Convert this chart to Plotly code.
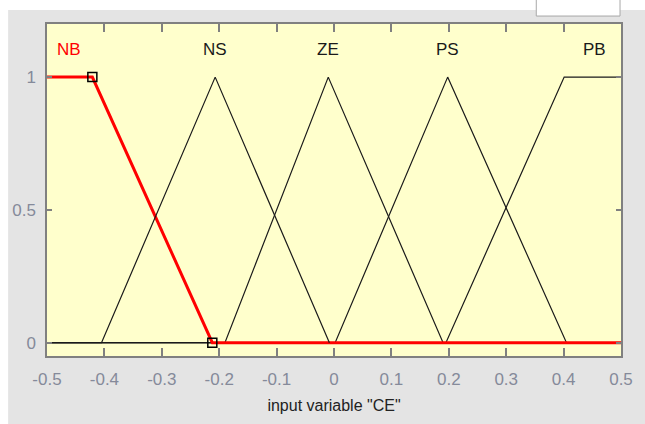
import plotly.graph_objects as go

# ---- data ----
x_ticks = [-0.5, -0.4, -0.3, -0.2, -0.1, 0, 0.1, 0.2, 0.3, 0.4, 0.5]
x_tick_labels = ["-0.5", "-0.4", "-0.3", "-0.2", "-0.1", "0", "0.1", "0.2", "0.3", "0.4", "0.5"]
y_ticks = [0, 0.5, 1]
y_tick_labels = ["0", "0.5", "1"]

mf_names = ["NB", "NS", "ZE", "PS", "PB"]
mf_label_x = [-0.462, -0.207, -0.01, 0.198, 0.453]
mf_label_y = [1.105, 1.105, 1.105, 1.105, 1.105]

nb_x = [-0.5, -0.421, -0.212, 0.5]
nb_y = [1, 1, 0, 0]
nb_marker_x = [-0.421, -0.212]
nb_marker_y = [1, 0]

ns_x = [-0.5, -0.405, -0.207, -0.008]
ns_y = [0, 0, 1, 0]
ze_x = [-0.5, -0.19, -0.01, 0.19, 0.5]
ze_y = [0, 0, 1, 0, 0]
ps_x = [-0.5, 0.002, 0.198, 0.405, 0.5]
ps_y = [0, 0, 1, 0, 0]
pb_x = [-0.5, 0.195, 0.401, 0.5]
pb_y = [0, 0, 1, 1]

x_title = 'input variable "CE"'

FONT = "Liberation Sans, Arial, sans-serif"
TICK_COLOR = "#858a9a"
BLACK = "#1a1a1a"
RED = "#ff0000"

fig = go.Figure()

for xs, ys in [(ze_x, ze_y), (ps_x, ps_y), (pb_x, pb_y)]:
    fig.add_trace(go.Scatter(x=xs, y=ys, mode="lines",
                             line=dict(color=BLACK, width=1.2),
                             hoverinfo="skip", showlegend=False))

fig.add_trace(go.Scatter(x=nb_x, y=nb_y, mode="lines",
                         line=dict(color=RED, width=3),
                         hoverinfo="skip", showlegend=False))

fig.add_trace(go.Scatter(x=ns_x, y=ns_y, mode="lines",
                         line=dict(color=BLACK, width=1.2),
                         hoverinfo="skip", showlegend=False))

fig.add_trace(go.Scatter(x=nb_marker_x, y=nb_marker_y, mode="markers",
                         marker=dict(symbol="square-open", size=9,
                                     color="black", line=dict(width=1.5, color="black")),
                         hoverinfo="skip", showlegend=False))

for name, lx, ly in zip(mf_names, mf_label_x, mf_label_y):
    fig.add_annotation(x=lx, y=ly, text=name, showarrow=False,
                       font=dict(family=FONT, size=17,
                                 color=RED if name == "NB" else BLACK),
                       xanchor="center", yanchor="middle")

fig.update_xaxes(range=[-0.5, 0.5], tickvals=x_ticks, ticktext=x_tick_labels,
                 ticks="inside", ticklen=8, tickcolor="#808080", tickwidth=1.5,
                 showline=True, linecolor="#808080", linewidth=1.5, mirror="ticks",
                 showgrid=False, zeroline=False,
                 tickfont=dict(family=FONT, size=17, color=TICK_COLOR),
                 ticklabelstandoff=7,
                 title=dict(text=x_title, standoff=12,
                            font=dict(family=FONT, size=16, color="#222222")))
fig.update_yaxes(range=[-0.05, 1.2], tickvals=y_ticks, ticktext=y_tick_labels,
                 ticks="inside", ticklen=5, tickcolor="#808080", tickwidth=1.5,
                 showline=True, linecolor="#808080", linewidth=1.5, mirror="ticks",
                 showgrid=False, zeroline=False,
                 tickfont=dict(family=FONT, size=17, color=TICK_COLOR),
                 ticklabelstandoff=6)

shapes = [
    # white strip on top
    dict(type="rect", xref="paper", yref="paper", x0=-0.2, x1=1.2, y0=1.042, y1=1.2,
         fillcolor="white", line=dict(width=0), layer="below"),
    # white strip on left
    dict(type="rect", xref="paper", yref="paper", x0=-0.2, x1=-0.0677, y0=-0.3, y1=1.2,
         fillcolor="white", line=dict(width=0), layer="below"),
    # white box at top right
    dict(type="rect", xref="paper", yref="paper", x0=0.8524, x1=0.9983, y0=1.024, y1=1.1,
         fillcolor="white", line=dict(width=1, color="#a8a8a8"), layer="above"),
]

fig.update_layout(
    width=645, height=424,
    margin=dict(l=45, r=24, t=24, b=67),
    paper_bgcolor="#e4e4e4",
    plot_bgcolor="#ffffcc",
    shapes=shapes,
    showlegend=False,
)

fig.write_html("out.html")
